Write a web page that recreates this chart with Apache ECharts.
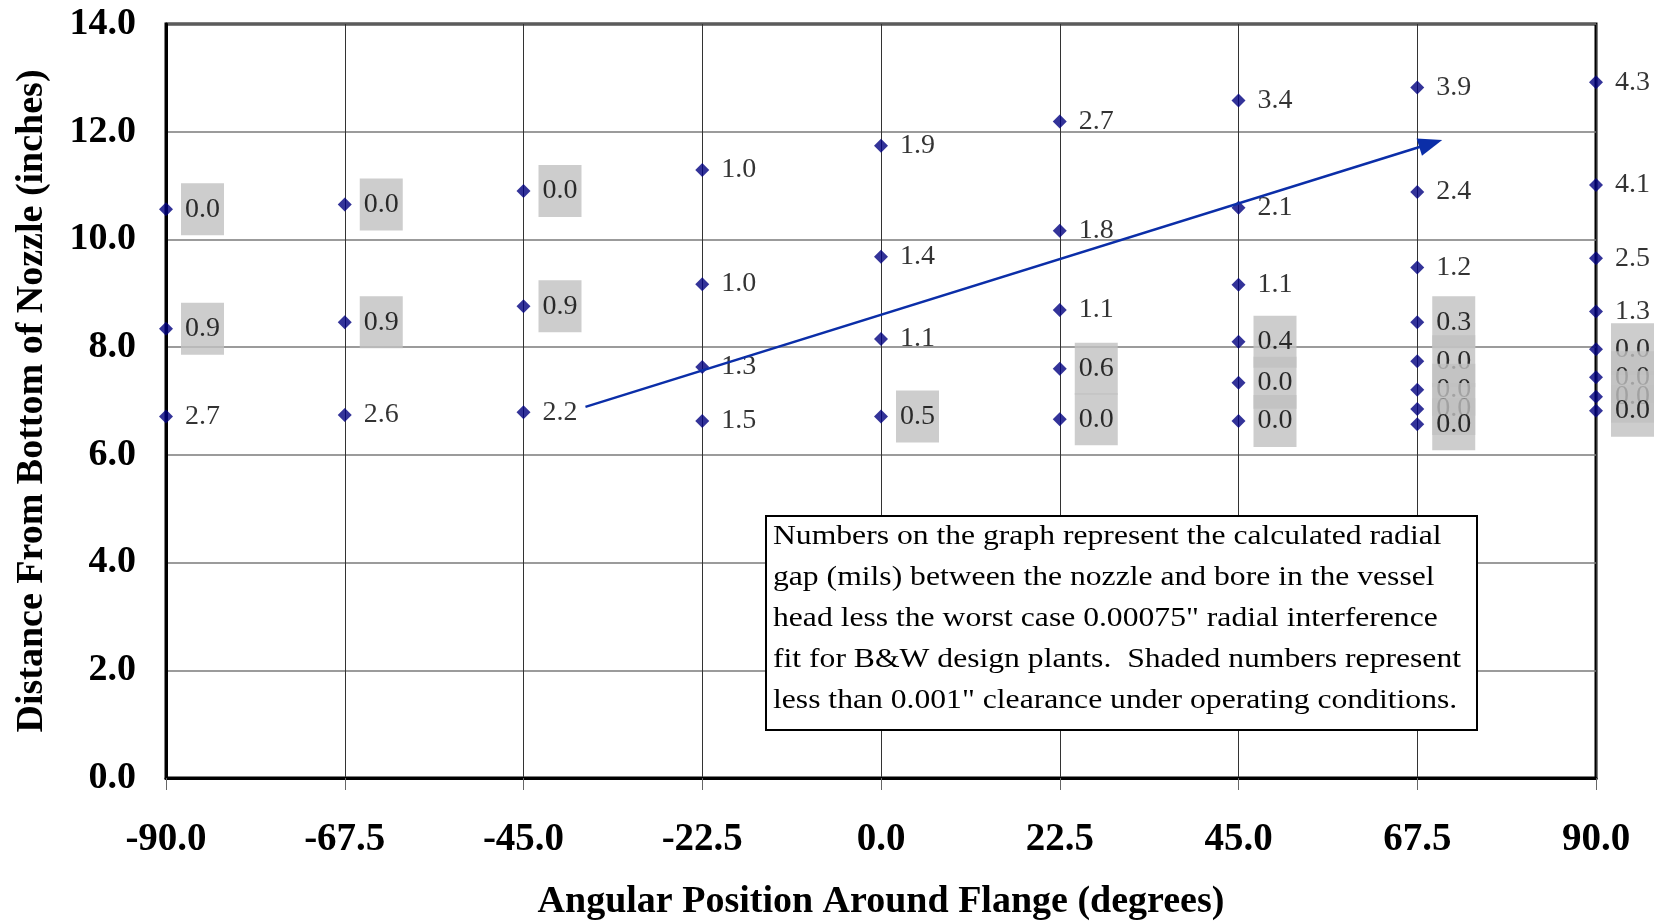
<!DOCTYPE html>
<html>
<head>
<meta charset="utf-8">
<script src="https://cdn.jsdelivr.net/npm/echarts@6/dist/echarts.min.js"></script>
<style>
html,body{margin:0;padding:0;background:#fff;}
#chart{width:1662px;height:921px;}
</style>
</head>
<body>
<div id="chart"></div>
<script>
// Angular positions (degrees)
const angles = [-90, -67.5, -45, -22.5, 0, 22.5, 45, 67.5, 90];
// Distance from bottom of nozzle (inches), per angle, top to bottom
const heights = [
  [10.56, 8.34, 6.71],
  [10.65, 8.46, 6.74],
  [10.90, 8.76, 6.79],
  [11.29, 9.17, 7.63, 6.63],
  [11.74, 9.68, 8.15, 6.71],
  [12.19, 10.16, 8.69, 7.60, 6.66],
  [12.58, 10.59, 9.16, 8.10, 7.34, 6.63],
  [12.82, 10.88, 9.48, 8.46, 7.74, 7.21, 6.85, 6.57],
  [12.92, 11.01, 9.65, 8.66, 7.96, 7.44, 7.08, 6.82]
];
// Radial gap (mils)
const gaps = [
  [0.0, 0.9, 2.7],
  [0.0, 0.9, 2.6],
  [0.0, 0.9, 2.2],
  [1.0, 1.0, 1.3, 1.5],
  [1.9, 1.4, 1.1, 0.5],
  [2.7, 1.8, 1.1, 0.6, 0.0],
  [3.4, 2.1, 1.1, 0.4, 0.0, 0.0],
  [3.9, 2.4, 1.2, 0.3, 0.0, 0.0, 0.0, 0.0],
  [4.3, 4.1, 2.5, 1.3, 0.0, 0.0, 0.0, 0.0]
];
// Shaded = less than 0.001" clearance under operating conditions
const shaded = [
  [1, 1, 0],
  [1, 1, 0],
  [1, 1, 0],
  [0, 0, 0, 0],
  [0, 0, 0, 1],
  [0, 0, 0, 1, 1],
  [0, 0, 0, 1, 1, 1],
  [0, 0, 0, 1, 1, 1, 1, 1],
  [0, 0, 0, 0, 1, 1, 1, 1]
];
// Trend arrow endpoints (data coords)
const arrowStart = [-37.2, 6.89];
const arrowEnd = [69.2, 11.78];
const noteLines = [
  'Numbers on the graph represent the calculated radial',
  'gap (mils) between the nozzle and bore in the vessel',
  'head less the worst case 0.00075" radial interference',
  'fit for B&W design plants.  Shaded numbers represent',
  'less than 0.001" clearance under operating conditions.'
];

const SERIF = '"Liberation Serif", "Times New Roman", "DejaVu Serif", serif';

const points = [];
angles.forEach((a, i) => {
  heights[i].forEach((h, j) => {
    points.push({
      value: [a, h, gaps[i][j]],
      label: {
        backgroundColor: shaded[i][j] ? '#c0c0c0' : 'transparent'
      }
    });
  });
});

const chart = echarts.init(document.getElementById('chart'), null, {renderer: 'canvas'});
chart.setOption({
  animation: false,
  backgroundColor: '#fff',
  grid: {
    left: 166, right: 66, top: 24, bottom: 143,
    containLabel: false,
    outerBoundsMode: 'none',
    show: true, borderColor: '#000', borderWidth: 3, backgroundColor: 'transparent'
  },
  xAxis: {
    type: 'value', min: -90, max: 90, interval: 22.5,
    name: 'Angular Position Around Flange (degrees)',
    nameLocation: 'middle', nameGap: 105,
    nameTextStyle: {fontFamily: SERIF, fontWeight: 'bold', fontSize: 38, color: '#000'},
    axisLine: {show: true, onZero: false, lineStyle: {color: '#000', width: 3}},
    axisTick: {show: true, length: 12, lineStyle: {color: '#666', width: 1}},
    axisLabel: {
      margin: 42, fontFamily: SERIF, fontWeight: 'bold', fontSize: 39, color: '#000',
      formatter: v => v.toFixed(1)
    },
    splitLine: {show: true, lineStyle: {color: '#333', width: 1}}
  },
  yAxis: {
    type: 'value', min: 0, max: 14, interval: 2,
    name: 'Distance From Bottom of Nozzle (inches)',
    nameLocation: 'middle', nameGap: 115, nameRotate: 90,
    nameTextStyle: {fontFamily: SERIF, fontWeight: 'bold', fontSize: 38, color: '#000'},
    axisLine: {show: true, onZero: false, lineStyle: {color: '#000', width: 3}},
    axisTick: {show: false},
    axisLabel: {
      margin: 30, fontFamily: SERIF, fontWeight: 'bold', fontSize: 38, color: '#000',
      formatter: v => v.toFixed(1)
    },
    splitLine: {show: true, lineStyle: {color: '#7a7a7a', width: 1.5}}
  },
  series: [
    {
      type: 'scatter',
      symbol: 'diamond',
      symbolSize: 14,
      itemStyle: {color: '#000080'},
      data: points,
      label: {
        show: true,
        position: 'right',
        distance: 8,
        fontFamily: SERIF,
        fontSize: 28,
        lineHeight: 34,
        color: '#000',
        padding: [9, 4, 9, 4],
        formatter: p => p.value[2].toFixed(1)
      },
      z: 3
    },
    {
      type: 'line',
      data: [],
      markLine: {
        silent: true,
        animation: false,
        symbol: ['none', 'triangle'],
        symbolSize: [18, 24],
        label: {show: false},
        lineStyle: {type: 'solid', color: '#0b2ea8', width: 2.5},
        data: [[{coord: arrowStart}, {coord: arrowEnd}]]
      },
      z: 4
    }
  ],
  graphic: [
    {
      type: 'rect', z: 100,
      shape: {x: 766, y: 516, width: 711, height: 214},
      style: {fill: '#fff', stroke: '#000', lineWidth: 2}
    },
    {
      type: 'text', z: 101,
      x: 773, y: 516,
      scaleX: 1.13,
      style: {
        text: noteLines.join('\n'),
        font: '28px ' + SERIF,
        lineHeight: 41,
        fill: '#000',
        align: 'left',
        verticalAlign: 'top'
      }
    }
  ]
});
</script>
</body>
</html>
